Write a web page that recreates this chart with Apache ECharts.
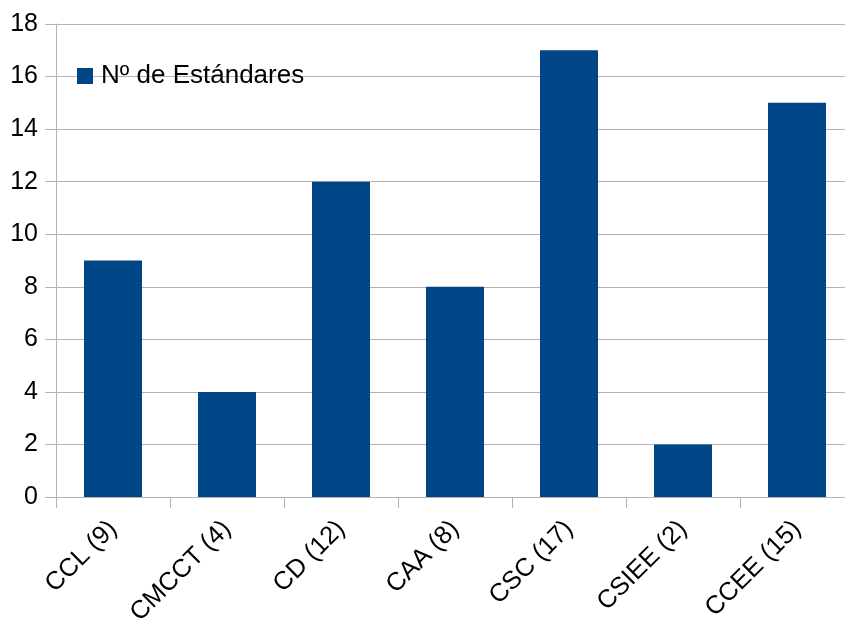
<!DOCTYPE html>
<html>
<head>
<meta charset="utf-8">
<script src="https://cdn.jsdelivr.net/npm/echarts@6/dist/echarts.min.js"></script>
<style>
  html, body { margin: 0; padding: 0; background: #fff; overflow: hidden; }
  #chart { width: 854px; height: 619px; }
</style>
</head>
<body>
<div id="chart"></div>
<script>
  // categorias y valores
  var categories = ['CCL (9)', 'CMCCT (4)', 'CD (12)', 'CAA (8)', 'CSC (17)', 'CSIEE (2)', 'CCEE (15)'];
  var estandares = [9, 4, 12, 8, 17, 2, 15];
  var seriesName = 'Nº de Estándares';

  var chart = echarts.init(document.getElementById('chart'));
  chart.setOption({
    animation: false,
    color: ['#004586'],
    textStyle: { fontFamily: 'Liberation Sans' },
    legend: {
      left: 72,
      top: 58,
      itemWidth: 16,
      itemHeight: 16,
      itemGap: 8,
      icon: 'rect',
      data: [seriesName],
      textStyle: { color: '#000', fontSize: 26, fontFamily: 'Liberation Sans', padding: [0, 0, 0, 3] }
    },
    grid: {
      left: 56,
      right: 0,
      top: 24,
      bottom: 122,
      containLabel: false,
      outerBoundsMode: 'none'
    },
    xAxis: {
      type: 'category',
      data: categories,
      axisLine: { lineStyle: { color: '#b3b3b3' } },
      axisTick: { show: true, length: 11, alignWithLabel: false, lineStyle: { color: '#b3b3b3' } },
      axisLabel: {
        rotate: 45,
        margin: 28,
        color: '#000',
        fontSize: 25.5,
        fontFamily: 'Liberation Sans',
        interval: 0
      }
    },
    yAxis: {
      type: 'value',
      min: 0,
      max: 18,
      interval: 2,
      axisLine: { show: true, lineStyle: { color: '#b3b3b3' } },
      axisTick: { show: true, length: 11, lineStyle: { color: '#b3b3b3' } },
      splitLine: { lineStyle: { color: '#b3b3b3' } },
      axisLabel: {
        margin: 18,
        color: '#000',
        fontSize: 25,
        fontFamily: 'Liberation Sans'
      }
    },
    series: [{
      name: seriesName,
      type: 'bar',
      barWidth: 58,
      data: estandares
    }]
  });
</script>
</body>
</html>
